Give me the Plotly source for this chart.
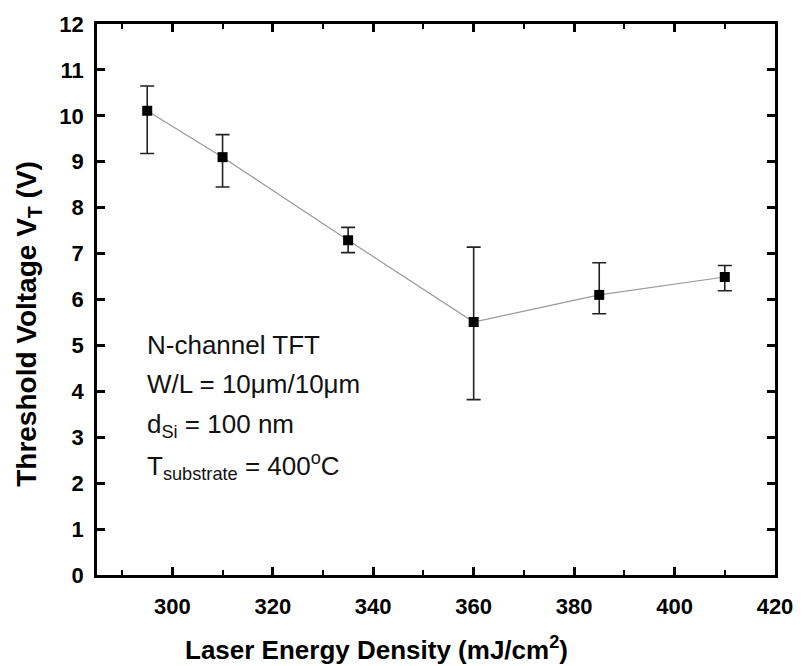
import plotly.graph_objects as go

energy = [295, 310, 335, 360, 385, 410]
vt = [10.11, 9.10, 7.29, 5.51, 6.10, 6.49]
err_plus = [0.54, 0.49, 0.28, 1.63, 0.70, 0.25]
err_minus = [0.93, 0.65, 0.27, 1.69, 0.41, 0.30]

x_ticks = [300, 320, 340, 360, 380, 400, 420]
y_ticks = list(range(0, 13))

x_title = "<b>Laser Energy Density (mJ/cm<sup>2</sup>)</b>"
y_title = "<b>Threshold Voltage V<sub>T</sub> (V)</b>"

info_lines = [
    "N-channel TFT",
    "W/L = 10μm/10μm",
    "d<sub>Si</sub> = 100 nm",
    "T<sub>substrate</sub> = 400<sup>o</sup>C",
]
info_y = [5.01, 4.16, 3.26, 2.38]

FONT = "Liberation Sans, Arial, sans-serif"

fig = go.Figure()
fig.add_trace(go.Scatter(
    x=energy, y=vt, mode="lines",
    line=dict(color="#9a9a9a", width=1.2),
    showlegend=False, hoverinfo="skip",
))
fig.add_trace(go.Scatter(
    x=energy, y=vt, mode="markers",
    marker=dict(symbol="square", size=10, color="black"),
    error_y=dict(type="data", symmetric=False, array=err_plus, arrayminus=err_minus,
                 color="#222222", thickness=1.6, width=7),
    showlegend=False,
))

for txt, yy in zip(info_lines, info_y):
    fig.add_annotation(x=294.5, y=yy, xref="x", yref="y", text=txt, showarrow=False,
                       xanchor="left", yanchor="middle",
                       font=dict(family=FONT, size=26, color="#111111"))

# axis titles placed as annotations (offset as in the reference)
fig.add_annotation(x=0.412, y=-0.1325, xref="paper", yref="paper", text=x_title,
                   showarrow=False, xanchor="center", yanchor="middle",
                   font=dict(family=FONT, size=26, color="black"))
fig.add_annotation(x=-0.101, y=0.455, xref="paper", yref="paper", text=y_title,
                   showarrow=False, xanchor="center", yanchor="middle", textangle=-90,
                   font=dict(family=FONT, size=28, color="black"))

axis_common = dict(
    showline=True, linecolor="black", linewidth=2.5, mirror="ticks",
    ticks="inside", tickcolor="black", tickwidth=2.5, ticklen=8,
    showgrid=False, zeroline=False,
    tickfont=dict(family=FONT, size=22, color="black"),
)

fig.update_xaxes(
    range=[285, 420], tickvals=x_ticks, ticktext=["<b>%d</b>" % v for v in x_ticks],
    ticklabelstandoff=10,
    minor=dict(ticks="inside", ticklen=5, tickwidth=2, tickcolor="black", dtick=10, tick0=290),
    **axis_common,
)
fig.update_yaxes(
    range=[0, 12], tickvals=y_ticks, ticktext=["<b>%d</b>" % v for v in y_ticks],
    ticklabelstandoff=6,
    **axis_common,
)

fig.update_layout(
    width=805, height=666,
    margin=dict(l=97, r=26, t=24, b=91),
    paper_bgcolor="white", plot_bgcolor="white",
)

fig.write_html("out.html")
